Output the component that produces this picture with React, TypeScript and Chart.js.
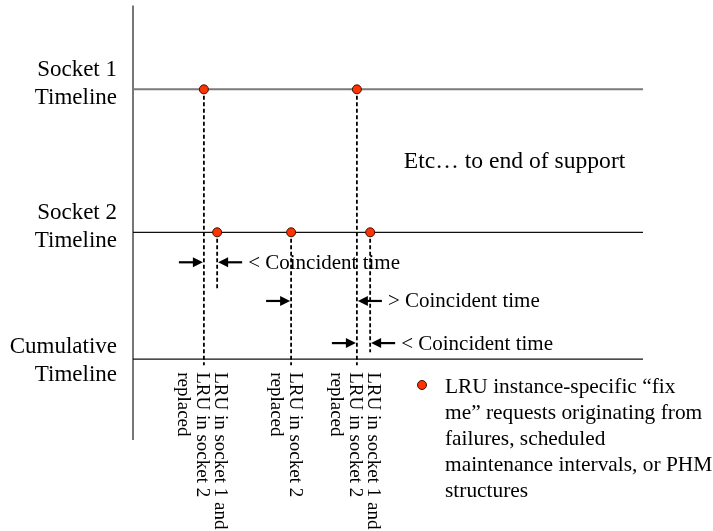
import React, { useEffect, useRef } from "react";
import { Chart, registerables } from "chart.js";

Chart.register(...registerables);

// ---- data ----
const rowNames = ["Socket 1\nTimeline", "Socket 2\nTimeline", "Cumulative\nTimeline"];
const rowLevels = [8.07, 4.78, 1.86];
const timelineEnd = 100;

const socket1Requests = [13.9, 43.9];
const socket2Requests = [16.5, 31.0, 46.5];
// where each dashed drop line ends (same order as the requests)
const socket1DropEnds = [1.72, 1.72];
const socket2DropEnds = [3.47, 1.72, 2.02];

const replacementTimes = [13.9, 31.0, 43.9];
const replacementLabels = [
  ["LRU in socket 1 and", "LRU in socket 2", "replaced"],
  ["LRU in socket 2", "replaced"],
  ["LRU in socket 1 and", "LRU in socket 2", "replaced"],
];

const gapLevels = [4.09, 3.2, 2.23];
const gapStarts = [13.9, 31.0, 43.9];
const gapEnds = [16.5, 43.9, 46.5];
const gapLabels = ["< Coincident time", "> Coincident time", "< Coincident time"];

const noteText = "Etc\u2026 to end of support";
const noteX = 53.1;
const noteY = 6.25;

const legendLines = [
  "LRU instance-specific \u201cfix",
  "me\u201d requests originating from",
  "failures, scheduled",
  "maintenance intervals, or PHM",
  "structures",
];

const RED = "#ff3300";
const DOT_BORDER = "#3a1000";
const FONT = '"Liberation Serif", "Times New Roman", serif';

export default function App() {
  const ref = useRef<HTMLCanvasElement | null>(null);

  useEffect(() => {
    if (!ref.current) return;

    const datasets: any[] = [];
    // request points (on top)
    [socket1Requests, socket2Requests].forEach((arr, r) => {
      datasets.push({
        label: `Socket ${r + 1} requests`,
        data: arr.map((x) => ({ x, y: rowLevels[r] })),
        pointRadius: 4.5,
        pointBackgroundColor: RED,
        pointBorderColor: DOT_BORDER,
        pointBorderWidth: 1,
        showLine: false,
        order: 0,
        clip: false,
      });
    });
    // dashed drop lines
    const addDrop = (x: number, from: number, to: number) => {
      datasets.push({
        data: [{ x, y: from }, { x, y: to }],
        showLine: true,
        borderColor: "#000",
        borderWidth: 1.8,
        borderDash: [4, 2.5],
        pointRadius: 0,
        order: 1,
        clip: false,
      });
    };
    socket1Requests.forEach((x, i) => addDrop(x, rowLevels[0], socket1DropEnds[i]));
    socket2Requests.forEach((x, i) => addDrop(x, rowLevels[1], socket2DropEnds[i]));
    // timelines
    rowLevels.forEach((lvl, i) => {
      datasets.push({
        data: [{ x: 0, y: lvl }, { x: timelineEnd, y: lvl }],
        showLine: true,
        borderColor: i === 0 ? "#7a7a7a" : "#111",
        borderWidth: i === 0 ? 2 : 1.3,
        pointRadius: 0,
        order: 2,
        clip: false,
      });
    });
    // vertical axis
    datasets.push({
      data: [{ x: 0, y: 0 }, { x: 0, y: 10 }],
      showLine: true,
      borderColor: "#777",
      borderWidth: 2,
      pointRadius: 0,
      order: 3,
      clip: false,
    });

    const overlay = {
      id: "overlay",
      afterDatasetsDraw(chart: any) {
        const ctx = chart.ctx as CanvasRenderingContext2D;
        const xs = chart.scales.x;
        const ys = chart.scales.y;
        const axisX = xs.getPixelForValue(0);
        ctx.save();
        ctx.fillStyle = "#000";
        ctx.strokeStyle = "#000";

        // row labels
        ctx.font = `23px ${FONT}`;
        ctx.textAlign = "right";
        ctx.textBaseline = "alphabetic";
        rowNames.forEach((name, i) => {
          const lines = name.split("\n");
          const ly = ys.getPixelForValue(rowLevels[i]) + (i === 2 ? 7 : 0);
          ctx.fillText(lines[0], axisX - 16, ly - 13.5);
          ctx.fillText(lines[1], axisX - 16, ly + 15);
        });

        // note
        ctx.font = `23.6px ${FONT}`;
        ctx.textAlign = "left";
        ctx.fillText(noteText, xs.getPixelForValue(noteX), ys.getPixelForValue(noteY));

        // gap arrows
        const arrow = (tipX: number, y: number, dir: number) => {
          const len = 24;
          const tail = tipX - dir * len;
          ctx.lineWidth = 2.2;
          ctx.beginPath();
          ctx.moveTo(tail, y);
          ctx.lineTo(tipX - dir * 6, y);
          ctx.stroke();
          ctx.beginPath();
          ctx.moveTo(tipX, y);
          ctx.lineTo(tipX - dir * 10, y - 5);
          ctx.lineTo(tipX - dir * 10, y + 5);
          ctx.closePath();
          ctx.fill();
          return tail;
        };
        ctx.font = `21px ${FONT}`;
        ctx.textBaseline = "middle";
        gapLevels.forEach((lvl, i) => {
          const y = ys.getPixelForValue(lvl);
          const a = xs.getPixelForValue(gapStarts[i]);
          const b = xs.getPixelForValue(gapEnds[i]);
          arrow(a - 1, y, 1);
          const tail = arrow(b + 1, y, -1);
          ctx.fillText(gapLabels[i], tail + 6, y + 1);
        });

        // rotated replacement labels
        ctx.font = `19px ${FONT}`;
        ctx.textAlign = "left";
        ctx.textBaseline = "middle";
        const cumY = ys.getPixelForValue(rowLevels[2]);
        replacementTimes.forEach((t, i) => {
          const px = xs.getPixelForValue(t);
          const lines = replacementLabels[i];
          const first = lines.length === 3 ? 16.5 : 3.5;
          lines.forEach((ln, j) => {
            ctx.save();
            ctx.translate(px + first - j * 18.5, cumY + 13);
            ctx.rotate(Math.PI / 2);
            ctx.fillText(ln, 0, 0);
            ctx.restore();
          });
        });

        // legend
        const lx = 445;
        const ly0 = 393;
        ctx.beginPath();
        ctx.arc(422, 385, 4.5, 0, Math.PI * 2);
        ctx.fillStyle = RED;
        ctx.fill();
        ctx.lineWidth = 1;
        ctx.strokeStyle = DOT_BORDER;
        ctx.stroke();
        ctx.fillStyle = "#000";
        ctx.font = `21.4px ${FONT}`;
        ctx.textBaseline = "alphabetic";
        legendLines.forEach((ln, j) => {
          ctx.fillText(ln, lx, ly0 + j * 26);
        });

        ctx.restore();
      },
    };

    const chart = new Chart(ref.current, {
      type: "scatter",
      data: { datasets },
      options: {
        animation: false,
        responsive: false,
        events: [],
        layout: { padding: { left: 133, right: 70, top: 5, bottom: 91 } },
        plugins: { legend: { display: false }, tooltip: { enabled: false } },
        scales: {
          x: { type: "linear", min: 0, max: timelineEnd, display: false },
          y: { type: "linear", min: 0, max: 10, display: false },
        },
      },
      plugins: [overlay],
    });
    return () => chart.destroy();
  }, []);

  return (
    <div style={{ position: "fixed", left: 0, top: 0, width: 713, height: 531, background: "#fff" }}>
      <canvas ref={ref} width={713} height={531} style={{ display: "block" }} />
    </div>
  );
}
